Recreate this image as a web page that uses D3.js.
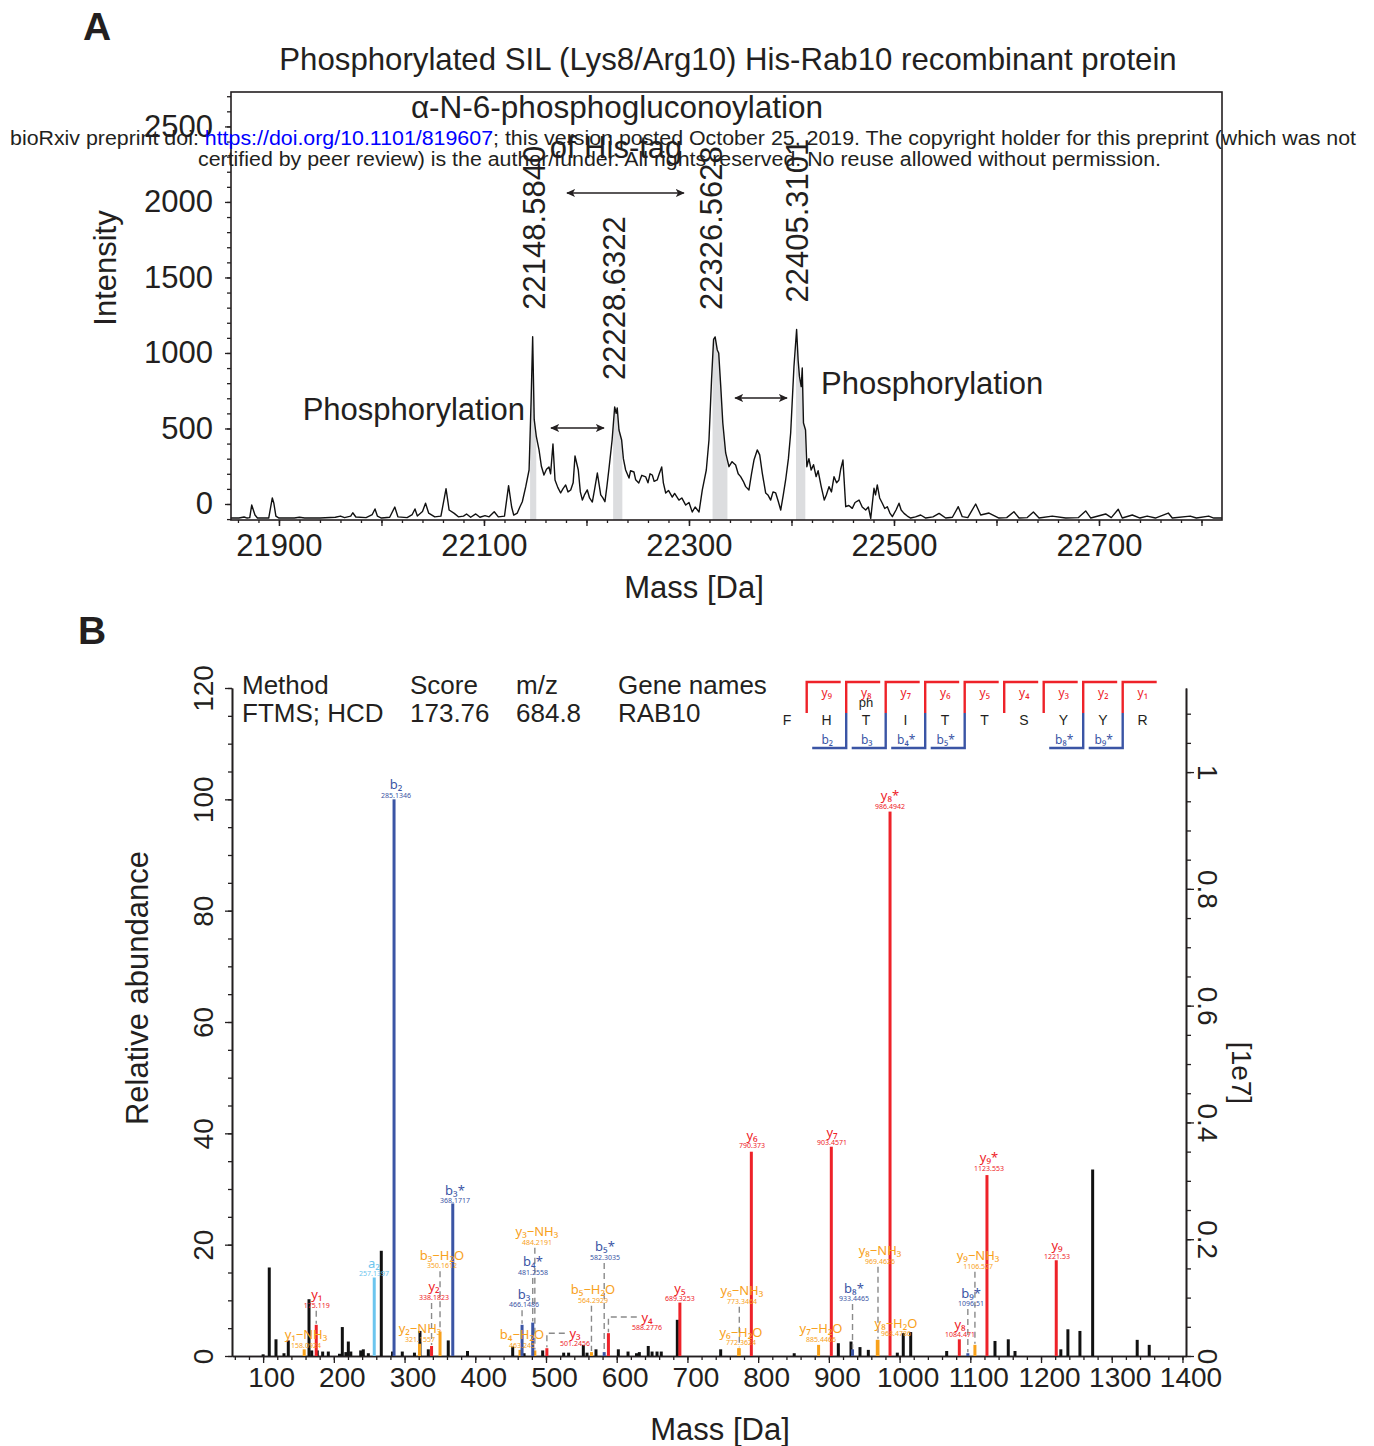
<!DOCTYPE html>
<html>
<head>
<meta charset="utf-8">
<script src="https://cdn.jsdelivr.net/npm/d3@7"></script>
<style>
  body { margin: 0; background: #fff; }
  text { font-family: "Liberation Sans", Arial, sans-serif; fill: #231f20; }
</style>
</head>
<body>
<script>
// ---------- panel A data: deconvoluted intact mass trace ----------
var tracePts = [
  [21853,-93],[21861,-93],[21866,-86],[21869,-93],[21871.5,-90],[21873.4,-7],[21875,-40],[21876.6,-73],[21879,-93],
  [21890,-93],[21893.5,40],[21895,5],[21897,-80],[21900,-93],[21915,-93],[21920,-88],[21925,-93],[21940,-93],
  [21955,-88],[21960,-80],[21964,-90],[21970,-80],[21972,-58],[21975,-86],[21985,-90],[21991,-70],[21993.7,-33],
  [21996,-80],[22000,-93],[22008,-88],[22013,-20],[22016,-85],[22025,-90],[22030,-70],[22032.7,-33],[22035,-80],
  [22040,-50],[22043,5],[22046,-60],[22052,-85],[22058,-80],[22063,101],[22066,-40],[22071,-62],[22075,-85],
  [22080,-80],[22083,-66],[22087,-88],[22092,-66],[22096,-88],[22101,-77],[22105,-85],[22110,-51],[22114,-85],
  [22120,-80],[22124,121],[22127,-20],[22129,-73],[22132.5,-60],[22135,-20],[22137.4,15],[22140.7,113],
  [22144,225],[22146,689],[22147.5,1108],[22149,560],[22151,450],[22153.7,358],[22156,250],[22158.5,192],
  [22161,230],[22163.4,245],[22165,200],[22167.3,397],[22169.3,159],[22172,110],[22174.8,73],[22177,100],
  [22179.7,126],[22182,80],[22184.6,93],[22187,140],[22188.8,318],[22192,225],[22194,80],[22196,26],[22198,60],
  [22200.8,93],[22203,40],[22205.7,13],[22208,100],[22210.6,205],[22213.9,60],[22216,40],[22218,15],[22220,120],
  [22222,238],[22225,424],[22227.5,642],[22229,600],[22230,636],[22231.7,490],[22234.3,424],[22236,300],
  [22238.2,225],[22241.5,172],[22243,220],[22246.3,212],[22248,160],[22251,139],[22254,190],[22257.8,179],
  [22260,140],[22262,200],[22264.2,192],[22266,150],[22269,159],[22271,200],[22273.4,245],[22275,140],
  [22277.3,73],[22280,90],[22283.7,46],[22286,70],[22290.2,26],[22293,40],[22296.8,-7],[22300,10],[22303.2,-53],
  [22306,-20],[22309.8,-53],[22313,93],[22316.9,225],[22319.5,424],[22322,821],[22324,1090],[22325.5,1106],
  [22327.6,1020],[22329,1000],[22331,777],[22333,536],[22335.8,338],[22339,247],[22342,280],[22345.5,258],
  [22348,200],[22350.4,181],[22353,150],[22355.3,115],[22358.5,93],[22361,200],[22363.4,291],[22366.6,358],
  [22369,325],[22371.5,205],[22374.8,73],[22377,60],[22379.7,26],[22382,80],[22384.6,73],[22387,20],
  [22389.5,-40],[22392,60],[22394.3,159],[22397,300],[22399.2,470],[22402.4,909],[22405,1155],[22406.5,950],
  [22407.8,843],[22409.5,777],[22410.5,900],[22411.7,536],[22413.7,490],[22415,247],[22417,300],[22419.2,225],
  [22421.5,260],[22424,181],[22426,220],[22429,115],[22432,26],[22434,60],[22436.6,115],[22439,80],[22441.5,181],
  [22444,140],[22446.3,159],[22448,230],[22450.2,291],[22452.9,-18],[22456,-10],[22459.3,-29],[22462,10],
  [22465.9,26],[22469,-20],[22472.4,-40],[22475,-20],[22477.3,-95],[22480.5,104],[22482,60],[22483.7,126],
  [22486,40],[22488.6,5],[22491,-30],[22493.5,-18],[22496,-60],[22498.4,-84],[22502,-40],[22504.9,5],[22507,-40],
  [22509.8,-62],[22513,-80],[22516.3,-93],[22521,-85],[22526,-73],[22531,-93],[22538,-85],[22544,-62],
  [22550.4,-93],[22557,-88],[22562.7,-18],[22566.6,-84],[22572,-90],[22579.7,0],[22584.6,-73],[22592.7,-60],
  [22602.4,-93],[22610,-90],[22617,-51],[22622,-93],[22630,-90],[22636,-53],[22641.5,-93],[22654.4,-80],
  [22667.5,-93],[22680,-90],[22687,-46],[22692,-93],[22706.5,-66],[22712,-90],[22718.8,-35],[22722.7,-93],
  [22732.5,-73],[22740,-93],[22747,-80],[22755,-93],[22767.6,-60],[22771.5,-93],[22789,-80],[22795,-93],
  [22807,-80],[22812,-93],[22820,-93]
];
var peakLabels = ["22148.5840", "22228.6322", "22326.5628", "22405.3101"];
var peakLabelDx = [0, -2, -5, 0];
var shadeRanges = [[22145, 22151], [22226, 22235], [22323, 22337.5], [22404.4, 22413.5]];
var aYTicks = [0, 500, 1000, 1500, 2000, 2500];
var aXTicks = [21900, 22100, 22300, 22500, 22700];
// mass-shift arrows: [from, to, intensity level]
var shiftArrows = [[22181, 22295, 2059], [22165.4, 22217, 503], [22345, 22395.6, 702]];

// ---------- panel B data: MS2 spectrum ----------
var otherPeaks = [
  [100,0.3],[108.7,15.9],[118.2,3.0],[129.5,0.5],[135.6,2.8],[164.9,10.2],[168.7,1.0],[176.6,1.0],[184.2,0.8],
  [192.2,0.8],[208,0.4],[212,5.2],[217,0.7],[220.5,2.6],[224,0.8],[238,1.0],[241.7,1.2],[248.8,0.5],[267.1,18.9],
  [283,0.8],[296.8,0.8],[314,0.6],[321.8,4.5],[333.6,1.2],[361.8,2.8],[389,0.9],[452.9,1.7],[469,0.5],
  [495.3,1.0],[525,0.6],[532,0.6],[552.8,2.0],[558,0.6],[570.7,1.2],[602.3,1.2],[616,0.8],[628,0.5],[632,0.7],
  [644.6,1.8],[650,0.8],[657,0.8],[663,0.8],[685.7,6.5],[747,1.2],[851,0.5],[913.4,2.3],[931.3,2.6],[944,1.6],
  [955.8,1.1],[996.8,0.6],[1005.2,4.1],[1015.7,4.3],[1066.6,0.9],[1134.9,2.7],[1153.7,3.0],[1163.2,0.9],
  [1228,1.2],[1238,4.8],[1255,4.5],[1273,33.5],[1336,2.9],[1353,2.0]
];
var yPeaks = [[175.119,5.6],[338.1823,1.8],[501.2456,1.4],[588.2776,4.1],[689.3253,9.6],[790.373,36.7],
  [903.4571,37.6],[986.4942,97.8],[1084.471,3.0],[1123.553,32.5],[1221.53,17.2]];
var bPeaks = [[285.1346,100],[368.1717,27.4],[466.1486,5.6],[481.2558,6.0],[582.3035,0.7],[933.4465,1.2],[1096.51,0.5]];
var aPeaks = [[257.1397,14.1]];
var lossPeaks = [[158.0924,1.2],[321.1557,2.2],[350.1612,4.4],[463.245,1.1],[484.2191,1.0],[564.2929,0.7],
  [772.3624,1.4],[773.3464,1.4],[885.4466,2.0],[968.4786,2.9],[969.4626,2.9],[1106.527,2.0]];

var ionLabels = [
  ["b₂","285.1346","b"],["y₈*","986.4942","y"],["b₃*","368.1717","b"],["a₂","257.1397","a"],
  ["y₁","175.119","y"],["y₁−NH₃","158.0924","l"],["b₃−H₂O","350.1612","l"],["y₂","338.1823","y"],
  ["y₂−NH₃","321.1557","l"],["y₃−NH₃","484.2191","l"],["b₄*","481.2558","b"],["b₃","466.1486","b"],
  ["b₄−H₂O","463.245","l"],["y₃","501.2456","y"],["b₅*","582.3035","b"],["b₅−H₂O","564.2929","l"],
  ["y₄","588.2776","y"],["y₅","689.3253","y"],["y₆","790.373","y"],["y₇","903.4571","y"],
  ["y₆−NH₃","773.3464","l"],["y₆−H₂O","772.3624","l"],["y₇−H₂O","885.4466","l"],["b₈*","933.4465","b"],
  ["y₈−NH₃","969.4626","l"],["y₈−H₂O","968.4786","l"],["y₉*","1123.553","y"],["y₉−NH₃","1106.527","l"],
  ["b₉*","1096.51","b"],["y₈","1084.471","y"],["y₉","1221.53","y"]
];
// where each ion label sits, in (m/z, relative abundance) of its centre
var ionLabelAt = [
  [288,102.6],[986.4,100.6],[371.3,29.8],[256.8,16.7],[175.8,11.0],[160.6,3.8],[352.9,18.1],[341.6,12.4],
  [321.9,4.9],[487.2,22.3],[481.6,16.9],[468.9,11.1],[466.1,3.8],[541,4.1],[583.4,19.6],[566.5,11.9],
  [642.8,7.0],[689.4,12.2],[791.3,39.7],[904.4,40.2],[777.1,11.7],[775.7,4.3],[888.9,4.9],[935.5,12.2],
  [972.3,18.9],[994.9,5.9],[1126.4,35.6],[1111,18.0],[1101,11.3],[1085.4,5.7],[1222.6,19.8]
];
var bXTicks = [100,200,300,400,500,600,700,800,900,1000,1100,1200,1300,1400];
var bYTicks = [0,20,40,60,80,100,120];
var bY2Ticks = [0,0.2,0.4,0.6,0.8,1];

var residues = ["F","H","T","I","T","T","S","Y","Y","R"];
var yIonsSeen = [["9",""],["8",""],["7",""],["6",""],["5",""],["4",""],["3",""],["2",""],["1",""]];
var bIonsSeen = [["2",""],["3",""],["4","*"],["5","*"],["8","*"],["9","*"]];
var phosphoSite = 3;

var headerCols = [["Method","FTMS; HCD"],["Score","173.76"],["m/z","684.8"],["Gene names","RAB10"]];

// ---------- drawing ----------
var ink = "#231f20";
var ionColor = { y: "#ee2229", b: "#3b55a5", a: "#6cc5ee", l: "#f8a11b" };
var sub = "₀₁₂₃₄₅₆₇₈₉";
var plain = d3.format("d");

var svg = d3.select("body").append("svg").attr("width", 1374).attr("height", 1446);
var defs = svg.append("defs");
defs.append("marker").attr("id", "arr").attr("viewBox", "0 0 10 10")
  .attr("refX", 9).attr("refY", 5).attr("markerWidth", 9).attr("markerHeight", 9)
  .attr("markerUnits", "userSpaceOnUse").attr("orient", "auto-start-reverse")
  .append("path").attr("d", "M0,0.5 L10,5 L0,9.5 L2.5,5 z").attr("fill", ink);

/* ===== Panel A ===== */
var xA = d3.scaleLinear().domain([21853.2, 22820]).range([231, 1222]);
var yA = d3.scaleLinear().domain([-106, 2728]).range([520, 92]);

var areaA = d3.area().x(function(d) { return xA(d[0]); }).y0(yA(-106)).y1(function(d) { return yA(d[1]); });
shadeRanges.forEach(function(r, i) {
  defs.append("clipPath").attr("id", "sh" + i).append("rect")
    .attr("x", xA(r[0])).attr("width", xA(r[1]) - xA(r[0])).attr("y", 92).attr("height", 428);
  svg.append("path").datum(tracePts).attr("d", areaA)
    .attr("fill", "#dcdddf").attr("clip-path", "url(#sh" + i + ")");
});

svg.append("path").datum(tracePts)
  .attr("d", d3.line().x(function(d) { return xA(d[0]); }).y(function(d) { return yA(d[1]); }))
  .attr("fill", "none").attr("stroke", "#111").attr("stroke-width", 1.4).attr("stroke-linejoin", "round");

svg.append("rect").attr("x", 231).attr("y", 92).attr("width", 991).attr("height", 428)
  .attr("fill", "none").attr("stroke", ink).attr("stroke-width", 1.6);

var gAy = svg.append("g").attr("transform", "translate(231,0)")
  .call(d3.axisLeft(yA).tickValues(aYTicks).tickFormat(plain).tickSize(6).tickPadding(12).tickSizeOuter(0));
gAy.append("g").call(d3.axisLeft(yA).tickValues(d3.range(-100, 2701, 100)).tickSize(4).tickFormat("").tickSizeOuter(0));
gAy.selectAll(".domain").remove();
gAy.selectAll("text").style("font-size", "31px").attr("fill", ink);

var gAx = svg.append("g").attr("transform", "translate(0,520)")
  .call(d3.axisBottom(xA).tickValues(aXTicks).tickFormat(plain).tickSize(6).tickPadding(8).tickSizeOuter(0));
gAx.append("g").call(d3.axisBottom(xA).tickValues(d3.range(21900, 22801, 100)).tickSize(6).tickFormat("").tickSizeOuter(0));
gAx.append("g").call(d3.axisBottom(xA).tickValues(d3.range(21860, 22820, 20)).tickSize(3).tickFormat("").tickSizeOuter(0));
gAx.selectAll(".domain").remove();
gAx.selectAll("text").style("font-size", "31px").attr("fill", ink);
svg.selectAll(".tick line").attr("stroke", ink).attr("stroke-width", 1.3);

// peak mass labels
peakLabels.forEach(function(t, i) {
  var m = +t;
  var top = d3.max(tracePts.filter(function(d) { return Math.abs(d[0] - m) < 4; }), function(d) { return d[1]; });
  var x = xA(m) + peakLabelDx[i], y = yA(top) - 27;
  svg.append("text").attr("transform", "translate(" + x + "," + y + ") rotate(-90)")
    .attr("dy", "0.36em").style("font-size", "31px").text(t);
});

shiftArrows.forEach(function(a) {
  svg.append("line").attr("x1", xA(a[0])).attr("x2", xA(a[1])).attr("y1", yA(a[2])).attr("y2", yA(a[2]))
    .attr("stroke", ink).attr("stroke-width", 1.6)
    .attr("marker-start", "url(#arr)").attr("marker-end", "url(#arr)");
});

svg.append("text").attr("x", 728).attr("y", 70).attr("text-anchor", "middle").style("font-size", "31.2px")
  .text("Phosphorylated SIL (Lys8/Arg10) His-Rab10 recombinant protein");
svg.append("text").attr("x", 617).attr("y", 118).attr("text-anchor", "middle").style("font-size", "31.5px")
  .text("α-N-6-phosphogluconoylation");
svg.append("text").attr("x", 616).attr("y", 158).attr("text-anchor", "middle").style("font-size", "31px")
  .text("of His-tag");
svg.append("text").attr("x", 525).attr("y", 420).attr("text-anchor", "end").style("font-size", "31px")
  .text("Phosphorylation");
svg.append("text").attr("x", 821).attr("y", 394).style("font-size", "31px").text("Phosphorylation");
svg.append("text").attr("transform", "translate(107,268) rotate(-90)").attr("dy", "0.3em")
  .attr("text-anchor", "middle").style("font-size", "31px").text("Intensity");
svg.append("text").attr("x", 694).attr("y", 598).attr("text-anchor", "middle").style("font-size", "31px")
  .text("Mass [Da]");
svg.append("text").attr("x", 83).attr("y", 40).style("font-size", "39px").style("font-weight", "bold").text("A");

/* ===== Panel B ===== */
var xB = d3.scaleLinear().domain([56, 1405]).range([232, 1186]);
var yB = d3.scaleLinear().domain([0, 120]).range([1356, 688]);
var yB2 = d3.scaleLinear().domain([0, 1.144]).range([1356, 688]);

function bars(data, color) {
  svg.append("g").selectAll("rect").data(data).enter().append("rect")
    .attr("x", function(d) { return xB(d[0]) - 1.5; }).attr("width", 3)
    .attr("y", function(d) { return yB(d[1]); })
    .attr("height", function(d) { return yB(0) - yB(d[1]); })
    .attr("fill", color);
}

var gBx = svg.append("g").attr("transform", "translate(0,1356)")
  .call(d3.axisBottom(xB).tickValues(bXTicks).tickFormat(plain).tickSize(7).tickPadding(4).tickSizeOuter(0));
gBx.append("g").call(d3.axisBottom(xB).tickValues(d3.range(60, 1405, 20)).tickSize(4).tickFormat("").tickSizeOuter(0));
gBx.selectAll("text").style("font-size", "28px").attr("dx", 8).attr("fill", ink);

var gBy = svg.append("g").attr("transform", "translate(232,0)")
  .call(d3.axisLeft(yB).tickValues(bYTicks).tickFormat(plain).tickSize(7).tickSizeOuter(0));
gBy.append("g").call(d3.axisLeft(yB).tickValues(d3.range(0, 121, 5)).tickSize(4).tickFormat("").tickSizeOuter(0));
gBy.selectAll("text").attr("x", null).attr("text-anchor", "middle")
  .attr("transform", "translate(-29,0) rotate(-90)").attr("dy", "0.36em")
  .style("font-size", "28px").attr("fill", ink);

var gBr = svg.append("g").attr("transform", "translate(1186,0)")
  .call(d3.axisRight(yB2).tickValues(bY2Ticks).tickSize(8).tickSizeOuter(0)
    .tickFormat(function(d) { return String(+d.toFixed(1)); }));
gBr.append("g").call(d3.axisRight(yB2).tickValues(d3.range(0, 1.14, 0.05)).tickSize(5).tickFormat("").tickSizeOuter(0));
gBr.selectAll("text").attr("x", null).attr("text-anchor", "middle")
  .attr("transform", "translate(22,0) rotate(90)").attr("dy", "0.36em")
  .style("font-size", "28px").attr("fill", ink);

[gBx, gBy, gBr].forEach(function(g) {
  g.selectAll(".domain").attr("stroke", ink).attr("stroke-width", 1.6);
  g.selectAll(".tick line").attr("stroke", ink).attr("stroke-width", 1.3);
});

bars(otherPeaks, "#111");
bars(lossPeaks, ionColor.l);
bars(aPeaks, ionColor.a);
bars(bPeaks, ionColor.b);
bars(yPeaks, ionColor.y);

// ion labels + dashed leaders
var peakSets = { y: yPeaks, b: bPeaks, a: aPeaks, l: lossPeaks };
ionLabels.forEach(function(lab, i) {
  var mz = +lab[1];
  var pk = peakSets[lab[2]].reduce(function(a, b) { return Math.abs(b[0] - mz) < Math.abs(a[0] - mz) ? b : a; });
  var px = xB(pk[0]), ptop = yB(pk[1]);
  var lx = xB(ionLabelAt[i][0]), cy = yB(ionLabelAt[i][1]);
  var col = ionColor[lab[2]];
  var halfW = lab[0].length * 3.6;
  var leader = null;
  if (Math.abs(lx - px) > 14 && lx - halfW - 3 > px) {
    leader = "M" + (lx - halfW - 3) + "," + cy + "H" + px + "V" + (ptop - 1);
  } else if (ptop - (cy + 16) > 4) {
    leader = "M" + px + "," + (cy + 16) + "V" + (ptop - 1);
  }
  if (leader) {
    svg.append("path").attr("d", leader).attr("fill", "none")
      .attr("stroke", "#8a8a8a").attr("stroke-width", 1.4).attr("stroke-dasharray", "6,4");
  }
  svg.append("text").attr("x", lx).attr("y", cy + 4.5).attr("text-anchor", "middle")
    .style("font-family", "'Noto Sans', 'DejaVu Sans', sans-serif").style("font-size", "13px")
    .style("fill", col).text(lab[0]);
  svg.append("text").attr("x", lx).attr("y", cy + 13).attr("text-anchor", "middle")
    .style("font-family", "'Noto Sans', 'DejaVu Sans', sans-serif").style("font-size", "7px")
    .style("fill", col).text(lab[1]);
});

// header
headerCols.forEach(function(c, i) {
  var x = [242, 410, 516, 618][i];
  svg.append("text").attr("x", x).attr("y", 694).style("font-size", "26px").text(c[0]);
  svg.append("text").attr("x", x).attr("y", 722).style("font-size", "26px").text(c[1]);
});

// sequence coverage map
var xSeq = d3.scaleLinear().domain([0, 10]).range([767.2, 1162.2]);
var seqG = svg.append("g");
residues.forEach(function(r, i) {
  seqG.append("text").attr("x", xSeq(i + 0.5)).attr("y", 725).attr("text-anchor", "middle")
    .style("font-size", "14px").text(r);
});
seqG.append("text").attr("x", xSeq(phosphoSite - 0.5)).attr("y", 707).attr("text-anchor", "middle")
  .style("font-size", "13px").text("ph");
yIonsSeen.forEach(function(y) {
  var bx = xSeq(residues.length - +y[0]);
  seqG.append("path").attr("d", "M" + bx + ",713V682H" + (bx + 34))
    .attr("fill", "none").attr("stroke", ionColor.y).attr("stroke-width", 2.4);
  seqG.append("text").attr("x", bx + 20).attr("y", 697).attr("text-anchor", "middle")
    .style("font-family", "'Noto Sans', 'DejaVu Sans', sans-serif").style("font-size", "12px")
    .style("fill", ionColor.y).text("y" + sub[+y[0]] + y[1]);
});
bIonsSeen.forEach(function(b) {
  var bx = xSeq(+b[0]);
  seqG.append("path").attr("d", "M" + bx + ",713V748H" + (bx - 34))
    .attr("fill", "none").attr("stroke", ionColor.b).attr("stroke-width", 2.4);
  seqG.append("text").attr("x", bx - 19).attr("y", 744).attr("text-anchor", "middle")
    .style("font-family", "'Noto Sans', 'DejaVu Sans', sans-serif").style("font-size", "12px")
    .style("fill", ionColor.b).text("b" + sub[+b[0]] + b[1]);
});

svg.append("text").attr("transform", "translate(137,988) rotate(-90)").attr("dy", "0.35em")
  .attr("text-anchor", "middle").style("font-size", "31px").text("Relative abundance");
svg.append("text").attr("x", 720).attr("y", 1440).attr("text-anchor", "middle").style("font-size", "31px")
  .text("Mass [Da]");
svg.append("text").attr("transform", "translate(1242,1073) rotate(90)").attr("dy", "0.35em")
  .attr("text-anchor", "middle").style("font-size", "28px").text("[1e7]");
svg.append("text").attr("x", 78).attr("y", 644).style("font-size", "39px").style("font-weight", "bold").text("B");

// preprint banner laid over the figure
var l1 = svg.append("text").attr("x", 10).attr("y", 145).style("font-size", "20px")
  .attr("textLength", 1346).attr("lengthAdjust", "spacingAndGlyphs");
l1.append("tspan").text("bioRxiv preprint doi: ");
l1.append("tspan").style("fill", "#0000ff").text("https://doi.org/10.1101/819607");
l1.append("tspan").text("; this version posted October 25, 2019. The copyright holder for this preprint (which was not");
svg.append("text").attr("x", 198).attr("y", 166).style("font-size", "20px")
  .attr("textLength", 963).attr("lengthAdjust", "spacingAndGlyphs")
  .text("certified by peer review) is the author/funder. All rights reserved. No reuse allowed without permission.");
</script>
</body>
</html>
